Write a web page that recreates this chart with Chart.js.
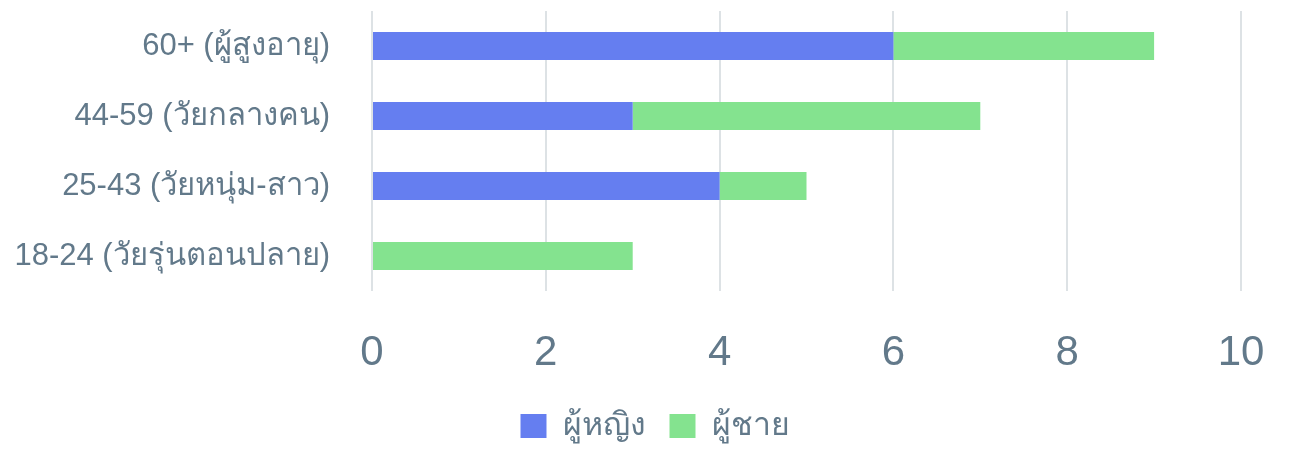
<!DOCTYPE html>
<html><head><meta charset="utf-8">
<script src="https://cdn.jsdelivr.net/npm/chart.js@4"></script>
<style>html,body{margin:0;padding:0;background:#fff}#w{width:1291px;height:452px}</style>
</head><body><div id="w"><canvas id="c"></canvas></div>
<script>
const categories = ["60+ (ผู้สูงอายุ)", "44-59 (วัยกลางคน)", "25-43 (วัยหนุ่ม-สาว)", "18-24 (วัยรุ่นตอนปลาย)"];
const seriesNames = ["ผู้หญิง", "ผู้ชาย"];
const female = [6, 3, 4, 0];
const male = [3, 4, 1, 3];
const xTicks = [0, 2, 4, 6, 8, 10];

const textColor = "#62798a";
const fontFam = "'Liberation Sans', Arial, 'Noto Sans', sans-serif";

const shiftLegend = {
  id: 'shiftLegend',
  afterLayout(chart) { if (chart.legend) { chart.legend.left = 69; } }
};

new Chart(document.getElementById('c'), {
  type: 'bar',
  data: {
    labels: categories,
    datasets: [
      {label: seriesNames[0], data: female, backgroundColor: '#657ef0', barPercentage: 0.5, categoryPercentage: 0.8},
      {label: seriesNames[1], data: male, backgroundColor: '#84e38f', barPercentage: 0.5, categoryPercentage: 0.8}
    ]
  },
  plugins: [shiftLegend],
  options: {
    indexAxis: 'y',
    responsive: true,
    maintainAspectRatio: false,
    animation: false,
    layout: {padding: {left: 0, right: 50, top: 11, bottom: 0}},
    plugins: {
      legend: {
        position: 'bottom',
        labels: {color: textColor, font: {family: fontFam, size: 32}, boxWidth: 26, boxHeight: 24, padding: 24}
      },
      tooltip: {enabled: false}
    },
    scales: {
      x: {
        stacked: true,
        min: 0, max: 10,
        afterBuildTicks: (s) => { s.ticks = xTicks.map(v => ({value: v})); },
        afterFit: (s) => { s.paddingLeft = 0; s.paddingRight = 0; s.height = 95; },
        grid: {color: '#dde2e5', lineWidth: 2, drawTicks: false},
        border: {display: false},
        ticks: {color: textColor, font: {family: fontFam, size: 42}, padding: 37}
      },
      y: {
        stacked: true,
        afterFit: (s) => { s.paddingTop = 0; s.paddingBottom = 0; s.width = 372; },
        grid: {display: false, drawTicks: false},
        border: {display: false},
        ticks: {color: textColor, font: {family: fontFam, size: 31}, padding: 42}
      }
    }
  }
});
</script></body></html>
